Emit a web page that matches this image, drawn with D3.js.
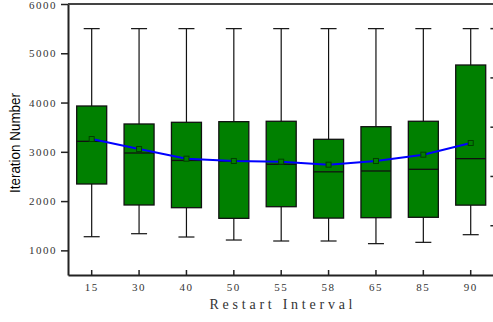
<!DOCTYPE html>
<html>
<head>
<meta charset="utf-8">
<script src="https://cdn.jsdelivr.net/npm/d3@7"></script>
<style>
  body { margin: 0; background: #fff; }
  svg { display: block; }
</style>
</head>
<body>
<div id="chart"></div>
<script>
// values
const intervals = ["15", "30", "40", "50", "55", "58", "65", "85", "90"];
const whiskerLow  = [1277, 1338, 1271, 1210, 1190, 1190, 1136, 1163, 1318];
const boxLow      = [2347, 1921, 1866, 1650, 1886, 1655, 1663, 1671, 1918];
const medians     = [3213, 2976, 2825, 2810, 2747, 2594, 2611, 2645, 2861];
const boxHigh     = [3930, 3565, 3599, 3612, 3620, 3254, 3510, 3620, 4762];
const whiskerHigh = [5500, 5500, 5500, 5500, 5500, 5500, 5500, 5500, 5500];
const means       = [3260, 3057, 2861, 2814, 2800, 2739, 2814, 2942, 3179];
const yTicks = [1000, 2000, 3000, 4000, 5000, 6000];
const yMinorTicks = [1500, 2500, 3500, 4500, 5500];

const width = 493, height = 322;
const plotLeft = 68, plotRight = 494.4, plotTop = 4, plotBottom = 275;

const svg = d3.select("#chart").append("svg")
  .attr("width", width)
  .attr("height", height);

const x = d3.scaleBand().domain(intervals).range([plotLeft, plotRight]).padding(0);
const y = d3.scaleLinear().domain([500, 6000]).range([plotBottom, plotTop]);

const boxW = 30, capW = 16;
const cx = d => x(d) + x.bandwidth() / 2;

const data = intervals.map((k, i) => ({
  k, lo: whiskerLow[i], q1: boxLow[i], med: medians[i], q3: boxHigh[i], hi: whiskerHigh[i], mean: means[i]
}));

// whiskers
const g = svg.append("g");
g.selectAll(".whisker").data(data).join("line")
  .attr("x1", d => cx(d.k)).attr("x2", d => cx(d.k))
  .attr("y1", d => y(d.lo)).attr("y2", d => y(d.hi))
  .attr("stroke", "#111").attr("stroke-width", 1.2);
g.selectAll(".capHi").data(data).join("line")
  .attr("x1", d => cx(d.k) - capW / 2).attr("x2", d => cx(d.k) + capW / 2)
  .attr("y1", d => y(d.hi)).attr("y2", d => y(d.hi))
  .attr("stroke", "#111").attr("stroke-width", 1.2);
g.selectAll(".capLo").data(data).join("line")
  .attr("x1", d => cx(d.k) - capW / 2).attr("x2", d => cx(d.k) + capW / 2)
  .attr("y1", d => y(d.lo)).attr("y2", d => y(d.lo))
  .attr("stroke", "#111").attr("stroke-width", 1.2);

// boxes
g.selectAll(".box").data(data).join("rect")
  .attr("x", d => cx(d.k) - boxW / 2)
  .attr("y", d => y(d.q3))
  .attr("width", boxW)
  .attr("height", d => y(d.q1) - y(d.q3))
  .attr("fill", "#008000")
  .attr("stroke", "#111")
  .attr("stroke-width", 1.3);
g.selectAll(".median").data(data).join("line")
  .attr("x1", d => cx(d.k) - boxW / 2).attr("x2", d => cx(d.k) + boxW / 2)
  .attr("y1", d => y(d.med)).attr("y2", d => y(d.med))
  .attr("stroke", "#111").attr("stroke-width", 1.3);

// mean line
svg.append("path")
  .datum(data)
  .attr("fill", "none")
  .attr("stroke", "#0000ff")
  .attr("stroke-width", 2)
  .attr("d", d3.line().x(d => cx(d.k)).y(d => y(d.mean)));

svg.selectAll(".meanPt").data(data).join("rect")
  .attr("x", d => cx(d.k) - 2.5)
  .attr("y", d => y(d.mean) - 2.5)
  .attr("width", 5).attr("height", 5)
  .attr("fill", "#008000")
  .attr("stroke", "#004000")
  .attr("stroke-width", 1);

// axes
const yAxis = svg.append("g")
  .attr("transform", "translate(" + plotLeft + ",0)")
  .call(d3.axisLeft(y).tickValues(yTicks).tickFormat(d3.format("d"))
    .tickSize(7).tickPadding(4).tickSizeOuter(0));
yAxis.select(".domain").attr("stroke", "#222").attr("stroke-width", 2);
yAxis.selectAll(".tick line").attr("stroke", "#222").attr("stroke-width", 1.5);
yAxis.selectAll(".tick text")
  .style("font-family", "'Liberation Serif', serif")
  .style("font-size", "11px")
  .style("letter-spacing", "1.5px")
  .attr("fill", "#333");
// keep the top label inside the frame
yAxis.selectAll(".tick text").filter(d => d === 6000).attr("dy", "0.45em");

const xAxis = svg.append("g")
  .attr("transform", "translate(0," + plotBottom + ")")
  .call(d3.axisBottom(x).tickSizeInner(-5).tickSizeOuter(0).tickPadding(8));
xAxis.select(".domain").attr("stroke", "#222").attr("stroke-width", 2);
xAxis.selectAll(".tick line").attr("stroke", "#222").attr("stroke-width", 1.5);
xAxis.selectAll(".tick text")
  .style("font-family", "'Liberation Serif', serif")
  .style("font-size", "11px")
  .style("letter-spacing", "1.5px")
  .attr("fill", "#333");

// top border
svg.append("line")
  .attr("x1", plotLeft).attr("x2", width)
  .attr("y1", y(6000)).attr("y2", y(6000))
  .attr("stroke", "#444").attr("stroke-width", 2);

// right side ticks (axis itself is cut off)
svg.selectAll(".rtick").data(yMinorTicks).join("line")
  .attr("x1", plotRight - 4).attr("x2", plotRight)
  .attr("y1", d => y(d)).attr("y2", d => y(d))
  .attr("stroke", "#222").attr("stroke-width", 1.5);

// titles
svg.append("text")
  .attr("transform", "translate(20," + 143 + ") rotate(-90)")
  .attr("text-anchor", "middle")
  .style("font-family", "'Liberation Sans Narrow', 'Arial Narrow', sans-serif")
  .style("font-size", "15px")
  .attr("textLength", 100)
  .attr("lengthAdjust", "spacingAndGlyphs")
  .text("Iteration Number");

svg.append("text")
  .attr("x", 281).attr("y", 309)
  .attr("text-anchor", "middle")
  .style("font-family", "'Liberation Serif', serif")
  .style("font-size", "14px")
  .attr("textLength", 143)
  .attr("lengthAdjust", "spacing")
  .attr("fill", "#333")
  .text("Restart Interval");
</script>
</body>
</html>
